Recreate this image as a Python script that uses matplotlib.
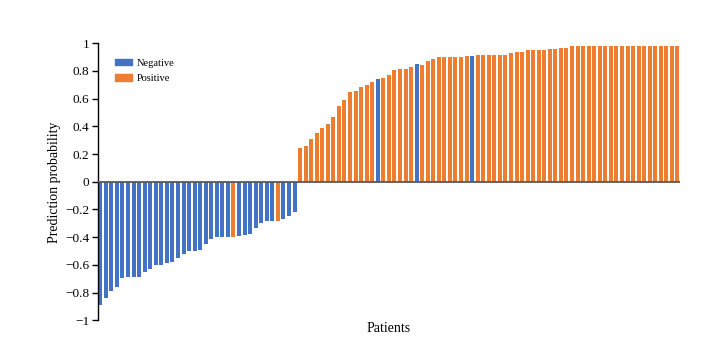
import matplotlib.pyplot as plt
import matplotlib.patches as mpatches
import numpy as np

plt.rcParams["font.family"] = ["Liberation Serif", "DejaVu Serif"]

neg_values = [
    -0.886, -0.838, -0.79, -0.763, -0.698, -0.688, -0.688, -0.688, -0.65,
    -0.633, -0.60, -0.60, -0.587, -0.578, -0.549, -0.522, -0.503, -0.50,
    -0.49, -0.448, -0.416, -0.40, -0.40, -0.40, -0.40, -0.392, -0.385,
    -0.378, -0.337, -0.30, -0.286, -0.286, -0.286, -0.27, -0.25, -0.221,
]
pos_values = [
    0.241, 0.26, 0.308, 0.349, 0.387, 0.416, 0.469, 0.549, 0.59, 0.647,
    0.657, 0.686, 0.70, 0.717, 0.739, 0.748, 0.77, 0.809, 0.813, 0.815,
    0.826, 0.847, 0.845, 0.869, 0.888, 0.898, 0.898, 0.898, 0.898, 0.898,
    0.907, 0.907, 0.917, 0.917, 0.917, 0.917, 0.917, 0.917, 0.927, 0.939,
    0.939, 0.948, 0.948, 0.948, 0.948, 0.958, 0.958, 0.967, 0.967,
    0.977, 0.977, 0.977, 0.977, 0.977, 0.977, 0.977, 0.977, 0.977, 0.977,
    0.977, 0.977, 0.977, 0.977, 0.977, 0.977, 0.977, 0.977, 0.977, 0.977,
]
# true class of each patient (1-based index of bars)
positive_patients = [25, 33] + list(range(37, 106))
negative_patients_in_pos = [51, 58, 68]

values = neg_values + pos_values
n = len(values)
classes = []
for i in range(1, n + 1):
    if i in negative_patients_in_pos:
        classes.append("Negative")
    elif i in positive_patients:
        classes.append("Positive")
    else:
        classes.append("Negative")

colors = {"Negative": "#4472C4", "Positive": "#ED7D31"}

fig = plt.figure(figsize=(7.15, 3.41), dpi=100)
ax = fig.add_axes([0.137, 0.0607, 0.814, 0.8125])

x = np.arange(n)
ax.bar(x, values, width=0.72, color=[colors[c] for c in classes])

ax.axhline(0, color="#595959", lw=1.3, zorder=3)
ax.set_xlim(-0.42, n - 1 + 0.45)
ax.set_ylim(-1, 1)
ax.set_yticks(np.arange(-1, 1.01, 0.2))
ax.set_yticklabels(["−1", "−0.8", "−0.6", "−0.4", "−0.2", "0",
                    "0.2", "0.4", "0.6", "0.8", "1"])
ax.set_xticks([])
for s in ["top", "right", "bottom"]:
    ax.spines[s].set_visible(False)
ax.spines["left"].set_color("black")
ax.spines["left"].set_linewidth(1.0)
ax.tick_params(axis="y", direction="out", length=4, width=1.0, labelsize=9.5, pad=2)

ax.set_ylabel("Prediction probability", fontsize=10, labelpad=3)
ax.set_xlabel("Patients", fontsize=10, labelpad=1)

handles = [mpatches.Patch(color=colors["Negative"], label="Negative"),
           mpatches.Patch(color=colors["Positive"], label="Positive")]
fig.legend(handles=handles, loc="upper left", bbox_to_anchor=(0.148, 0.855),
           frameon=False, fontsize=7.5, handlelength=1.6, handleheight=0.6,
           handletextpad=0.5, labelspacing=0.6)

fig.savefig("out.png", dpi=100)
